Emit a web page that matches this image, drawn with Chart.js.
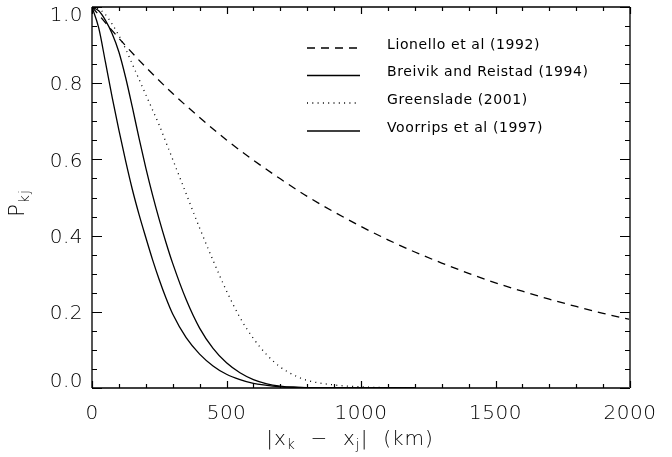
<!DOCTYPE html>
<html>
<head>
<meta charset="utf-8">
<script src="https://cdn.jsdelivr.net/npm/chart.js@4.4.1/dist/chart.umd.min.js"></script>
<style>
  html, body { margin: 0; padding: 0; background: #fff; }
  #wrap { width: 672px; height: 457px; }
</style>
</head>
<body>
<div id="wrap"><canvas id="c" width="672" height="457"></canvas></div>
<script>
// ---- data ----
const seriesNames = ['Lionello et al (1992)', 'Breivik and Reistad (1994)', 'Greenslade (2001)', 'Voorrips et al (1997)'];

const lionelloKm = [0, 100, 200, 300, 400, 500, 600, 700, 800, 900, 1000, 1100, 1200, 1300, 1400, 1500, 1600, 1700, 1800, 1900, 2000];
const lionelloP  = [1.0, 0.918, 0.842, 0.773, 0.71, 0.651, 0.598, 0.549, 0.503, 0.462, 0.424, 0.389, 0.357, 0.328, 0.301, 0.276, 0.254, 0.233, 0.214, 0.196, 0.18];

const shortKm    = [0, 25, 50, 75, 100, 125, 150, 175, 200, 225, 250, 275, 300, 350, 400, 450, 500, 550, 600, 650, 700, 750, 800, 900, 1000, 1100, 1200];
const breivikP   = [1.0, 0.99, 0.965, 0.93, 0.882, 0.815, 0.737, 0.655, 0.578, 0.507, 0.442, 0.382, 0.327, 0.232, 0.157, 0.104, 0.066, 0.04, 0.022, 0.011, 0.005, 0.002, 0.001, 0, 0, 0, 0];
const greensladeP= [1.0, 0.995, 0.98, 0.955, 0.925, 0.89, 0.85, 0.81, 0.77, 0.73, 0.69, 0.645, 0.6, 0.51, 0.42, 0.335, 0.255, 0.185, 0.13, 0.087, 0.055, 0.034, 0.02, 0.008, 0.003, 0.001, 0];
const voorripsP  = [1.0, 0.945, 0.855, 0.763, 0.677, 0.596, 0.521, 0.455, 0.395, 0.337, 0.284, 0.236, 0.194, 0.132, 0.089, 0.058, 0.036, 0.022, 0.012, 0.007, 0.003, 0.002, 0.001, 0, 0, 0, 0];

const xTickValues = [0, 500, 1000, 1500, 2000];
const xTickLabels = ['0', '500', '1000', '1500', '2000'];
const yTickValues = [0, 0.2, 0.4, 0.6, 0.8, 1.0];
const yTickLabels = ['0.0', '0.2', '0.4', '0.6', '0.8', '1.0'];
const xMinorStep = 100;
const yMinorStep = 0.05;

// ---- build datasets ----
function pts(xs, ys) { return xs.map((x, i) => ({ x: x, y: ys[i] })); }
const styles = [
  { dash: [8, 6] },
  { dash: [] },
  { dash: [1, 4.3] },
  { dash: [] }
];
const seriesData = [pts(lionelloKm, lionelloP), pts(shortKm, breivikP), pts(shortKm, greensladeP), pts(shortKm, voorripsP)];
const datasets = seriesNames.map((n, i) => ({
  label: n,
  data: seriesData[i],
  borderColor: '#000',
  borderWidth: 1.3,
  borderDash: styles[i].dash,
  pointRadius: 0,
  fill: false,
  cubicInterpolationMode: 'monotone',
  tension: 0.4
}));

const TICK_FONT = '200 20px "DejaVu Sans"';
const TEXT_COLOR = '#000';

function setSpacing(ctx, s) { if ('letterSpacing' in ctx) ctx.letterSpacing = s; }

const framePlugin = {
  id: 'frame',
  afterDatasetsDraw(chart) {
    const ctx = chart.ctx;
    const a = chart.chartArea;
    const xs = chart.scales.x, ys = chart.scales.y;
    ctx.save();
    ctx.setLineDash([]);
    // frame
    ctx.lineWidth = 1.5;
    ctx.strokeStyle = '#000';
    ctx.beginPath();
    ctx.moveTo(a.left, a.top); ctx.lineTo(a.right, a.top);
    ctx.moveTo(a.left, a.bottom); ctx.lineTo(a.right, a.bottom);
    ctx.stroke();
    ctx.strokeStyle = '#555';
    ctx.lineWidth = 2;
    ctx.beginPath();
    ctx.moveTo(a.left, a.top); ctx.lineTo(a.left, a.bottom);
    ctx.moveTo(a.right, a.top); ctx.lineTo(a.right, a.bottom);
    ctx.stroke();
    // ticks
    ctx.strokeStyle = '#000';
    ctx.lineWidth = 1.2;
    ctx.beginPath();
    for (let v = xs.min; v <= xs.max + 1e-9; v += xMinorStep) {
      const px = Math.round(xs.getPixelForValue(v)) + 0.5;
      const major = xTickValues.some(t => Math.abs(t - v) < 1e-6);
      const L = major ? 7 : 4;
      ctx.moveTo(px, a.bottom); ctx.lineTo(px, a.bottom - L);
      ctx.moveTo(px, a.top); ctx.lineTo(px, a.top + L);
    }
    for (let k = 0; k * yMinorStep <= ys.max + 1e-9; k++) {
      const v = ys.min + k * yMinorStep;
      const py = Math.round(ys.getPixelForValue(v)) + 0.5;
      const major = yTickValues.some(t => Math.abs(t - v) < 1e-6);
      const L = major ? 10 : 5;
      ctx.moveTo(a.left, py); ctx.lineTo(a.left + L, py);
      ctx.moveTo(a.right, py); ctx.lineTo(a.right - L, py);
    }
    ctx.stroke();

    // tick labels
    ctx.fillStyle = TEXT_COLOR;
    ctx.font = TICK_FONT;
    setSpacing(ctx, '0.5px');
    ctx.textAlign = 'center';
    ctx.textBaseline = 'middle';
    xTickValues.forEach((v, i) => {
      ctx.fillText(xTickLabels[i], xs.getPixelForValue(v), a.bottom + 26);
    });
    ctx.textAlign = 'right';
    yTickValues.forEach((v, i) => {
      let py = ys.getPixelForValue(v) + 2;
      py = Math.max(a.top + 9, Math.min(a.bottom - 6.5, py));
      ctx.fillText(yTickLabels[i], a.left - 9, py);
    });

    // x title: |x_k − x_j| (km)
    const big = '200 20px "DejaVu Sans"';
    const small = '200 14px "DejaVu Sans"';
    setSpacing(ctx, '1px');
    const parts = [['|x', big, 0], ['k', small, 5], ['  \u2212  x', big, 0], ['j', small, 5], ['|  (km)', big, 0]];
    let total = 0;
    parts.forEach(p => { ctx.font = p[1]; total += ctx.measureText(p[0]).width; });
    let cx = 350 - total / 2;
    const ty = a.bottom + 52;
    ctx.textAlign = 'left';
    ctx.textBaseline = 'middle';
    parts.forEach(p => {
      ctx.font = p[1];
      ctx.fillText(p[0], cx, ty + p[2]);
      cx += ctx.measureText(p[0]).width;
    });

    // y title: P_kj rotated
    ctx.save();
    ctx.translate(19, 203);
    ctx.rotate(-Math.PI / 2);
    const yparts = [['P', '200 21px "DejaVu Sans"', 0], ['kj', small, 6]];
    let yt = 0;
    yparts.forEach(p => { ctx.font = p[1]; yt += ctx.measureText(p[0]).width; });
    let yx = -yt / 2;
    yparts.forEach(p => {
      ctx.font = p[1];
      ctx.fillText(p[0], yx, p[2]);
      yx += ctx.measureText(p[0]).width;
    });
    ctx.restore();

    // legend
    const rows = [45, 72.5, 100, 128];
    ctx.font = '14px "DejaVu Sans"';
    setSpacing(ctx, '0.6px');
    ctx.textBaseline = 'middle';
    ctx.textAlign = 'left';
    datasets.forEach((d, i) => {
      ctx.strokeStyle = '#000';
      ctx.lineWidth = 1.3;
      ctx.setLineDash(d.borderDash);
      ctx.beginPath();
      ctx.moveTo(307, rows[i] + 3);
      ctx.lineTo(360, rows[i] + 3);
      ctx.stroke();
      ctx.setLineDash([]);
      ctx.fillStyle = '#000';
      ctx.fillText(d.label, 387, rows[i]);
    });
    ctx.restore();
  }
};

new Chart(document.getElementById('c'), {
  type: 'line',
  data: { datasets: datasets },
  options: {
    responsive: false,
    animation: false,
    devicePixelRatio: 1,
    layout: { padding: { left: 92, right: 42, top: 7, bottom: 69 } },
    plugins: { legend: { display: false }, tooltip: { enabled: false } },
    scales: {
      x: { type: 'linear', min: 0, max: 2000, display: false },
      y: { type: 'linear', min: 0, max: 1.0, display: false }
    }
  },
  plugins: [framePlugin]
});
</script>
</body>
</html>
